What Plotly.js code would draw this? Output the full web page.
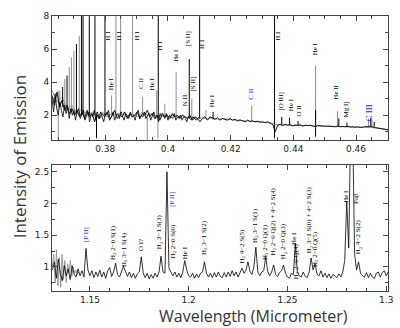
<!DOCTYPE html>
<html><head><meta charset="utf-8">
<script src="https://cdn.plot.ly/plotly-3.0.1.min.js"></script>
<style>html,body{margin:0;padding:0;background:#fff}#c{width:400px;height:328px}</style>
</head><body><div id="c"></div>
<script>
// ---------- TOP PANEL (optical) ----------
const topStartBlack = 0.363, topStepBlack = 0.0008;
const topBlack = [3.2,2.6,3.4,2.5,2.9,2.3,2.6,2.1,2.4,2.0,2.3,1.9,2.2,1.8,2.3,1.9,2.1,1.6,2.2,1.8,
2.1,1.9,2.2,1.7,2.0,2.3,1.8,2.0,1.9,2.2,1.8,2.1,1.9,2.0,2.2,1.8,2.1,2.0,2.3,1.9,
2.1,1.8,2.0,1.7,2.1,1.9,2.0,1.8,2.1,1.9,2.0,1.8,2.0,1.9,1.8,2.0,1.7,1.9,1.8,1.6,
1.8,1.9,1.7,1.9,1.8,1.75,1.85,1.7,1.8,1.75,1.7,1.8,1.7,1.75,1.65,1.72,1.68,1.6,1.7,1.62,
1.66,1.6,1.64,1.58,1.6,1.55,1.6,1.5,1.45,1.0,1.4,1.45,1.38,1.45,1.4,1.42,1.36,1.4,1.38,1.42,
1.35,1.4,1.37,1.4,1.36,1.3,1.38,1.35,1.36,1.33,1.34,1.32,1.33,1.3,1.35,1.3,1.32,1.3,1.33,1.28,
1.3,1.27,1.3,1.26,1.28,1.32,1.3,1.35,1.28,1.25,1.22,1.2,1.18,1.15,1.12];
// denser noisy black segment on the blue end
const topDenseStart = 0.363, topDenseStep = 0.0005;
const topDense = [3.0,2.2,3.3,2.4,2.0,2.8,2.3,1.9,2.6,2.1,
2.5,1.8,2.4,2.0,2.3,1.7,2.2,2.4,1.8,2.1,
2.3,1.7,2.0,2.2,1.6,2.1,1.9,2.3,1.7,2.0,
1.8,2.2,1.9,1.6,2.1,2.0,2.3,1.8,1.9,2.2,
1.7,2.0,2.1,1.8,2.2,1.9,1.7,2.1,2.0,1.8,
2.2,1.9,2.0,1.7,2.1,2.3,1.8,2.0,1.9,2.2,
1.8,2.0,2.1,1.7,1.9,2.2,1.8,2.0,1.6,2.1,
1.9,2.0,1.8,2.1,1.7,2.0,1.9,1.8,2.1,1.7,
1.9,1.8,2.0,1.7,1.9,1.8,1.6,1.9,1.8,1.7,
1.9,1.8,1.7,1.8,1.9];
const topStartGray = 0.363, topStepGray = 0.0016;
const topGray = [3.5,2.8,3.1,2.4,2.6,2.1,2.4,2.0,2.2,1.9,2.2,1.9,2.1,2.0,2.2,1.9,2.1,1.9,2.2,2.0,
2.1,1.9,2.1,1.9,2.0,1.9,2.0,1.85,1.9,1.8,1.85,1.8,1.85,1.75,1.8,1.75,1.72,1.7,1.68,1.66,
1.6,1.62,1.58,1.55,1.5,1.42,1.4,1.42,1.38,1.4,1.36,1.38,1.35,1.36,1.34,1.34,1.33,1.32,1.31,1.3,
1.29,1.28,1.27,1.28,1.25,1.2,1.16,1.12];
// emission lines: wavelength, base, peak, colour flag (1 = black, 0 = gray)
const topLineWl   = [0.3655,0.3664,0.3671,0.3678,0.3685,0.3692,0.3700,0.3708,0.3717,0.3724,0.3729,0.3749,0.3767,0.3799,0.3834,0.3849,0.3887,0.3969,0.4101,0.4340,
0.3820,0.3919,0.3964,0.3990,0.4026,0.4068,0.4076,0.4121,0.4144,0.4267,0.4363,0.4388,0.4415,0.4471,0.4471,0.4541,0.4545,0.4571,0.4640,0.4647,0.4651,0.4658];
const topLineBase = [2.6,2.5,2.4,2.3,2.3,2.2,2.1,2.1,2.0,2.0,2.0,2.0,2.0,2.0,2.0,2.0,2.0,1.9,1.8,1.45,
2.0,2.0,1.9,1.9,1.9,1.8,1.8,1.8,1.75,1.62,1.4,1.4,1.4,1.35,1.35,1.32,1.32,1.3,1.3,1.3,1.3,1.3];
const topLinePeak = [3.5,3.7,4.2,4.4,4.9,5.5,5.9,6.3,6.8,9,9,9,9,9,9,9,9,9,9,9,
3.2,3.1,3.5,2.7,4.6,5.4,3.0,2.3,2.2,2.6,1.9,1.85,1.65,5.0,2.3,2.25,1.8,1.55,1.8,1.85,1.75,1.6];
const topLineBlack= [0,1,0,1,0,0,0,1,0,1,1,1,1,1,0,0,0,1,1,1,
0,0,0,0,0,1,0,0,1,0,1,1,1,0,1,0,1,1,0,1,0,1];
// absorption dips: wavelength, top, bottom, colour flag
const topDipWl  = [0.3650,0.3772,0.3934,0.3968,0.4340,0.4471];
const topDipTop = [3.5,2.0,2.0,1.9,1.45,1.35];
const topDipLow = [0.5,0.6,0.5,0.6,0.6,0.7];
const topDipBlack=[0,1,0,0,1,1];
const topLabels = ["H I","H I","H I","He I","C II","He I","H I","He I","[S II]","[S II]","N II","H I","He I","C II","H I","[O III]","He I","O II","He I","He II","Mg I]","C III"];
const topLabelWl = [0.3808,0.3843,0.3900,0.3821,0.3916,0.3952,0.3974,0.4026,0.4064,0.4080,0.4054,0.4108,0.4143,0.4265,0.4351,0.4361,0.4392,0.4419,0.4470,0.4537,0.4569,0.4642];
const topLabelY  = [6.8,6.8,6.8,3.92,3.92,3.92,6.2,5.6,6.6,3.86,2.9,6.3,2.9,3.3,6.8,2.83,2.66,2.3,6.0,3.38,2.36,2.12];
const topLabelBlue=[0,0,0,0,1,0,0,0,0,0,0,0,0,1,0,0,0,0,0,0,0,1];

// ---------- BOTTOM PANEL (near-IR) ----------
const botStart = 1.131, botStep = 0.001;
const botBlack = [0.95,1.08,0.82,1.12,0.9,0.78,1.02,0.86,0.97,0.8,1.02,0.88,0.84,0.97,0.86,0.94,0.84,1.29,0.95,0.86,
0.94,0.83,0.92,0.85,0.95,0.84,0.92,0.82,0.94,0.99,0.85,0.92,1.06,0.88,0.84,0.94,1.01,0.93,0.85,0.92,
0.83,0.9,0.82,0.89,0.92,1.16,0.9,0.83,0.9,0.81,0.88,0.82,0.9,0.84,0.92,1.17,0.92,0.9,2.5,0.98,
0.92,0.86,0.92,0.84,0.9,0.83,0.92,1.1,0.95,0.86,0.84,0.9,0.82,0.89,0.83,0.9,0.92,1.08,0.9,0.84,
0.9,0.83,0.91,0.84,0.92,0.85,0.83,0.91,0.84,0.92,0.85,0.94,0.86,0.92,0.84,0.91,0.98,0.9,0.95,1.08,
0.93,0.88,1.0,1.31,0.92,0.86,0.92,0.94,1.16,0.93,0.86,0.92,1.03,0.88,0.85,0.91,0.94,1.03,0.9,0.84,
0.82,0.9,0.88,1.37,0.92,0.86,0.84,0.92,0.85,0.83,0.92,1.14,0.95,1.05,0.88,0.86,0.94,0.84,0.9,0.83,
0.89,0.82,0.88,0.86,0.83,0.89,0.84,0.92,1.1,2.03,1.3,3.2,3.2,1.2,0.95,1.08,0.9,0.86,0.84,0.91,
0.83,0.9,0.84,0.82,0.9,0.92,0.84,0.91,0.94,0.86,0.92];
const botGrayStart = 1.131, botGrayStep = 0.0007;
const botGray = [1.0,1.2,0.75,1.27,0.7,1.15,0.68,1.2,0.8,1.1,0.75,1.05,0.9,1.1,0.85,1.0,0.9,0.95,0.88,0.92];
const botLabels = ["[P II]","H<sub>2</sub> 2−0 S(1)","H<sub>2</sub> 3−1 S(4)","O I?","H<sub>2</sub> 3−1 S(3)","[P II]","H<sub>2</sub> 2−0 S(0)","He I",
"H<sub>2</sub> 3−1 S(2)","H<sub>2</sub> 4−2 S(5)","H<sub>2</sub> 3−1 S(1)","H<sub>2</sub> 2−0 Q(1)","H<sub>2</sub> 2−0 Q(2) + 4−2 S(4)","H<sub>2</sub> 2−0 Q(3)","He I","H<sub>2</sub> 2−0 Q(4)",
"H<sub>2</sub> 3−1 S(0) + 4−2 S(3)","H<sub>2</sub> 2−0 Q(5)","He I","Paβ","H<sub>2</sub> 4−2 S(2)"];
const botLabelWl = [1.148,1.1616,1.1672,1.1762,1.1854,1.1914,1.1919,1.1981,1.2077,1.2268,1.2335,1.2386,1.2425,1.2479,1.2536,1.2544,1.2611,1.2639,1.2796,1.2850,1.2858];
const botLabelY  = [1.52,1.39,1.28,1.34,1.56,2.07,1.41,1.23,1.47,1.33,1.66,1.39,1.71,1.41,1.45,1.09,1.74,1.28,2.12,2.08,1.47];
const botLabelBlue=[1,0,0,0,0,1,0,0,0,0,0,0,0,0,0,0,0,0,0,0,0];

// ---------- build ----------
const GRAY = '#8e8e8e', BLACK = '#000', BLUE = '#1a1aff';
function seg(wl, a, b, flags, want) {
  const x = [], y = [];
  wl.forEach((w, i) => { if (flags[i] === want) { x.push(w, w, null); y.push(a[i], b[i], null); } });
  return {x, y};
}
const traces = [];
traces.push({type:'scatter', mode:'lines', x0:topStartGray, dx:topStepGray, y:topGray, line:{color:GRAY, width:0.9}, xaxis:'x', yaxis:'y'});
let s = seg(topLineWl, topLineBase, topLinePeak, topLineBlack, 0);
traces.push({type:'scatter', mode:'lines', x:s.x, y:s.y, line:{color:GRAY, width:1}, xaxis:'x', yaxis:'y'});
s = seg(topDipWl, topDipTop, topDipLow, topDipBlack, 0);
traces.push({type:'scatter', mode:'lines', x:s.x, y:s.y, line:{color:GRAY, width:1}, xaxis:'x', yaxis:'y'});
traces.push({type:'scatter', mode:'lines', x0:topStartBlack, dx:topStepBlack, y:topBlack, line:{color:BLACK, width:0.9}, xaxis:'x', yaxis:'y'});
traces.push({type:'scatter', mode:'lines', x0:topDenseStart, dx:topDenseStep, y:topDense, line:{color:BLACK, width:0.8}, xaxis:'x', yaxis:'y'});
s = seg(topLineWl, topLineBase, topLinePeak, topLineBlack, 1);
traces.push({type:'scatter', mode:'lines', x:s.x, y:s.y, line:{color:BLACK, width:1}, xaxis:'x', yaxis:'y'});
s = seg(topDipWl, topDipTop, topDipLow, topDipBlack, 1);
traces.push({type:'scatter', mode:'lines', x:s.x, y:s.y, line:{color:BLACK, width:1}, xaxis:'x', yaxis:'y'});
traces.push({type:'scatter', mode:'lines', x0:botGrayStart, dx:botGrayStep, y:botGray, line:{color:GRAY, width:0.9}, xaxis:'x2', yaxis:'y2'});
traces.push({type:'scatter', mode:'lines', x0:botStart, dx:botStep, y:botBlack, line:{color:BLACK, width:0.8}, xaxis:'x2', yaxis:'y2'});

const annotations = [];
topLabels.forEach((t, i) => annotations.push({text:t, x:topLabelWl[i], y:topLabelY[i], xref:'x', yref:'y', showarrow:false, textangle:-90,
  xanchor:'center', yanchor:'middle',
  font:{family:'Liberation Serif, serif', size: t==='C III' ? 9 : 7, color: topLabelBlue[i] ? BLUE : BLACK}}));
botLabels.forEach((t, i) => annotations.push({text:t, x:botLabelWl[i], y:botLabelY[i], xref:'x2', yref:'y2', showarrow:false, textangle:-90,
  xanchor:'center', yanchor:'middle',
  font:{family:'Liberation Serif, serif', size:7, color: botLabelBlue[i] ? BLUE : BLACK}}));
annotations.push({text:'Intensity of Emission', xref:'paper', yref:'paper', x:-0.098, y:0.49, xanchor:'center', yanchor:'middle', showarrow:false, textangle:-90,
  font:{family:'Open Sans, sans-serif', size:17, color:'#333'}});
annotations.push({text:'Wavelength (Micrometer)', xref:'paper', yref:'paper', x:0.601, y:-0.092, xanchor:'center', yanchor:'middle', showarrow:false,
  font:{family:'Open Sans, sans-serif', size:16, color:'#333'}});

const ax = {showline:true, mirror:'allticks', linecolor:'#444', linewidth:1, ticks:'inside', ticklen:5, tickcolor:'#444',
  showgrid:false, zeroline:false, tickfont:{family:'DejaVu Sans, sans-serif', size:9, color:'#222'}};
const layout = {
  width:400, height:328, margin:{l:52, r:12, t:16, b:37}, showlegend:false, paper_bgcolor:'#fff', plot_bgcolor:'#fff',
  xaxis: Object.assign({}, ax, {domain:[0,1], anchor:'y', range:[0.363,0.4702], dtick:0.02, tick0:0, minor:{dtick:0.005, ticks:'inside', ticklen:3, tickcolor:'#444'}}),
  yaxis: Object.assign({}, ax, {domain:[0.549,1], anchor:'x', range:[0.5,8], dtick:2, tick0:0, minor:{dtick:1, ticks:'inside', ticklen:3, tickcolor:'#444'}}),
  xaxis2: Object.assign({}, ax, {domain:[0,1], anchor:'y2', range:[1.1308,1.3009], dtick:0.05, tick0:0, ticklabelstandoff:0, minor:{dtick:0.01, ticks:'inside', ticklen:3, tickcolor:'#444'}}),
  yaxis2: Object.assign({}, ax, {domain:[0,0.458], anchor:'x2', range:[0.62,2.606], dtick:0.5, tick0:0, minor:{dtick:0.25, ticks:'inside', ticklen:3, tickcolor:'#444'}}),
  annotations
};
Plotly.newPlot('c', traces, layout, {staticPlot:true, displayModeBar:false});
</script></body></html>
